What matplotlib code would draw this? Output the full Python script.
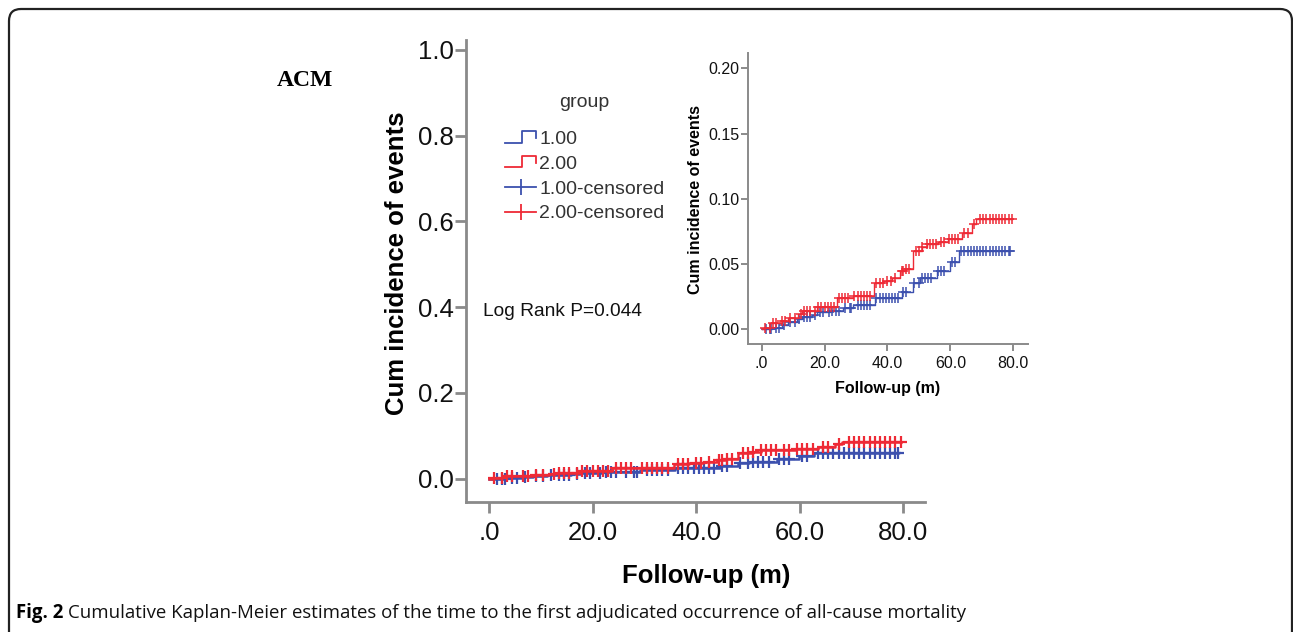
import numpy as np
import matplotlib
matplotlib.use("Agg")
import matplotlib.pyplot as plt
from matplotlib.legend_handler import HandlerBase
from matplotlib.lines import Line2D
from matplotlib.patches import FancyBboxPatch
from matplotlib.transforms import IdentityTransform

plt.rcParams['font.family'] = ['Liberation Sans', 'DejaVu Sans']

# ---------------- data ----------------
group_labels = ["1.00", "2.00"]

# group 1.00 (blue): event times (months) and cumulative incidence after each step
g1_times = [0.0, 3.2, 6.4, 8.5, 11.2, 12.7, 15.9, 17.5, 21.7, 25.9, 29.1, 36.0,
            44.7, 48.0, 50.3, 55.6, 59.9, 62.8]
g1_cum = [0.0, 0.0011, 0.0030, 0.0054, 0.0075, 0.0095, 0.0113, 0.0130, 0.0143,
          0.0164, 0.0189, 0.0242, 0.0288, 0.0357, 0.0390, 0.0449, 0.0518, 0.0600]
g1_censor = [1.5, 2.5, 3.0, 4.5, 5.5, 7.0, 9.0, 10.5, 12.0, 13.5, 14.5, 15.5, 17.0,
             18.5, 19.5, 21.5, 22.5, 23.5, 24.5, 26.5, 28.0, 28.5, 30.5, 31.5, 32.5,
             33.5, 34.5, 36.5, 37.5, 38.5, 39.5, 40.5, 41.5, 42.5, 43.5, 45.0, 46.0,
             48.5, 50.0, 51.0, 52.0, 53.0, 54.0, 56.0, 57.0, 58.0, 60.5, 61.5, 63.5,
             64.5, 65.5, 66.5, 67.5, 68.5, 69.5, 70.5, 71.5, 72.5, 73.5, 74.5, 75.5,
             76.5, 77.5, 78.5, 79.0]

# group 2.00 (red)
g2_times = [0.0, 0.5, 2.6, 6.4, 8.5, 11.6, 12.7, 17.5, 23.8, 29.1, 35.8, 38.7, 41.3,
            44.0, 45.5, 48.0, 50.9, 52.5, 56.2, 59.3, 63.6, 66.8, 68.1]
g2_cum = [0.0, 0.0012, 0.0050, 0.0066, 0.0089, 0.0117, 0.0140, 0.0169, 0.0238,
          0.0258, 0.0352, 0.0370, 0.0390, 0.0444, 0.0460, 0.0602, 0.0630, 0.0656,
          0.0670, 0.0690, 0.0736, 0.0809, 0.0846]
g2_censor = [1.0, 2.5, 3.5, 4.5, 6.5, 7.5, 9.0, 10.5, 12.5, 13.5, 14.5, 15.5, 17.0,
             18.0, 19.0, 20.0, 21.0, 22.0, 23.0, 24.5, 25.5, 26.5, 27.5, 29.5, 30.5,
             31.5, 32.5, 33.5, 34.5, 36.5, 37.5, 38.5, 40.0, 41.0, 42.5, 44.5, 45.0,
             46.0, 47.0, 49.0, 50.0, 51.0, 52.5, 53.5, 54.5, 55.5, 57.0, 58.0, 59.5,
             60.5, 61.5, 62.5, 64.5, 65.5, 67.5, 69.5, 70.5, 71.5, 72.5, 73.5, 74.5,
             75.5, 76.5, 77.5, 78.5, 79.5]

x_ticks = [0, 20, 40, 60, 80]
x_ticklabels = [".0", "20.0", "40.0", "60.0", "80.0"]
main_yticks = [0.0, 0.2, 0.4, 0.6, 0.8, 1.0]
main_yticklabels = ["0.0", "0.2", "0.4", "0.6", "0.8", "1.0"]
inset_yticks = [0.0, 0.05, 0.10, 0.15, 0.20]
inset_yticklabels = ["0.00", "0.05", "0.10", "0.15", "0.20"]

BLUE = "#3c50ae"
RED = "#ee2a36"
SPINE = "#8a8a8a"

# ---------------- figure ----------------
W, H = 1293, 632
fig = plt.figure(figsize=(W / 100, H / 100), dpi=100)


def fx(px):
    return px / W


def fy(py):
    return 1 - py / H


# outer rounded frame
frame = FancyBboxPatch((9, -60), 1283, 632 - 9 + 60,
                       boxstyle="round,pad=0,rounding_size=12",
                       transform=IdentityTransform(), fill=False,
                       edgecolor="#222222", linewidth=1.6)
fig.add_artist(frame)


def step_series(times, cum, censor):
    end = max(censor[-1], times[-1])
    xs = list(times) + [end]
    ys = list(cum) + [cum[-1]]
    t = np.asarray(times)
    c = np.asarray(cum)
    idx = np.searchsorted(t, np.asarray(censor), side="right") - 1
    return xs, ys, np.asarray(censor), c[idx]


series = [(g1_times, g1_cum, g1_censor, BLUE), (g2_times, g2_cum, g2_censor, RED)]


def style_axes(a, lw, ticklen, fs, xpad, ypad):
    for s in ["top", "right"]:
        a.spines[s].set_visible(False)
    for s in ["left", "bottom"]:
        a.spines[s].set_color(SPINE)
        a.spines[s].set_linewidth(lw)
    a.tick_params(axis="both", direction="out", length=ticklen, width=lw,
                  color=SPINE, labelsize=fs, labelcolor="#111111")
    a.tick_params(axis="x", pad=xpad)
    a.tick_params(axis="y", pad=ypad)


# ---------------- main axes ----------------
ax = fig.add_axes([fx(466), fy(502), fx(925) - fx(466), fy(40) - fy(502)])
ax.set_xlim(-4.44, 84.2)
ax.set_ylim(-0.0546, 1.0233)
for times, cum, cens, col in series:
    xs, ys, cx, cy = step_series(times, cum, cens)
    ax.step(xs, ys, where="post", color=col, lw=1.8)
    ax.plot(cx, cy, linestyle="none", marker="+", color=col, markersize=9, mew=1.6)
ax.set_xticks(x_ticks)
ax.set_xticklabels(x_ticklabels)
ax.set_yticks(main_yticks)
ax.set_yticklabels(main_yticklabels)
style_axes(ax, 2.0, 8, 18.5, 6, 1)
ax.set_xlabel("Follow-up (m)", fontsize=18.5, fontweight="bold")
ax.set_ylabel("Cum incidence of events", fontsize=18.5, fontweight="bold")
ax.xaxis.set_label_coords(fx(706), fy(576), transform=fig.transFigure)
ax.yaxis.set_label_coords(fx(397), fy(263), transform=fig.transFigure)
ax.xaxis.label.set_va("center")
ax.yaxis.label.set_va("center")

ax.text(fx(483), fy(311), "Log Rank P=0.044", transform=fig.transFigure,
        fontsize=13.8, va="center", ha="left", color="#111111")


class StepHandler(HandlerBase):
    def create_artists(self, legend, orig_handle, xdescent, ydescent, width,
                       height, fontsize, trans):
        x0, y0 = -xdescent, -ydescent
        xs = [x0, x0 + 0.55 * width, x0 + 0.55 * width, x0 + width, x0 + width]
        ys = [y0 + 0.1 * height, y0 + 0.1 * height, y0 + 0.95 * height,
              y0 + 0.95 * height, y0 + 0.45 * height]
        ln = Line2D(xs, ys, color=orig_handle.get_color(), lw=1.3, transform=trans)
        return [ln]


h1 = Line2D([], [], color=BLUE)
h2 = Line2D([], [], color=RED)
h3 = Line2D([], [], color=BLUE, lw=1.3, marker="|", markersize=11, mew=1.3)
h4 = Line2D([], [], color=RED, lw=1.3, marker="|", markersize=11, mew=1.3)
leg = ax.legend([h1, h2, h3, h4],
                [group_labels[0], group_labels[1],
                 group_labels[0] + "-censored", group_labels[1] + "-censored"],
                handler_map={h1: StepHandler(), h2: StepHandler()},
                title="group", loc="upper left",
                bbox_to_anchor=(fx(505), fy(94)), bbox_transform=fig.transFigure,
                frameon=False, fontsize=14, title_fontsize=14,
                handlelength=1.6, handletextpad=0.15, labelspacing=0.37,
                borderpad=0, borderaxespad=0, numpoints=1)
for t in leg.get_texts():
    t.set_color("#333333")
leg.get_title().set_color("#333333")
leg._legend_box.sep = 14

# ---------------- inset axes ----------------
ins = fig.add_axes([fx(748), fy(344), fx(1028) - fx(748), fy(53) - fy(344)])
ins.set_xlim(-4.35, 84.7)
ins.set_ylim(-0.0113, 0.2117)
for times, cum, cens, col in series:
    xs, ys, cx, cy = step_series(times, cum, cens)
    ins.step(xs, ys, where="post", color=col, lw=1.0)
    ins.plot(cx, cy, linestyle="none", marker="+", color=col, markersize=6.5, mew=1.1)
ins.set_xticks(x_ticks)
ins.set_xticklabels(x_ticklabels)
ins.set_yticks(inset_yticks)
ins.set_yticklabels(inset_yticklabels)
style_axes(ins, 1.4, 5, 11.5, 4, 1)
ins.set_xlabel("Follow-up (m)", fontsize=11.5, fontweight="bold")
ins.set_ylabel("Cum incidence of events", fontsize=11.5, fontweight="bold")
ins.xaxis.set_label_coords(fx(888), fy(388), transform=fig.transFigure)
ins.yaxis.set_label_coords(fx(695), fy(199), transform=fig.transFigure)
ins.xaxis.label.set_va("center")
ins.yaxis.label.set_va("center")

# ---------------- texts ----------------
fig.text(fx(305), fy(80), "ACM", fontsize=17, fontweight="bold",
         family=["Liberation Serif", "DejaVu Serif"], ha="center", va="center")

cap_y = fy(613)
t1 = fig.text(fx(16), cap_y, "Fig. 2", fontsize=13.4, fontweight="bold",
              family=["Open Sans", "DejaVu Sans"], ha="left", va="center")
fig.canvas.draw()
bb = t1.get_window_extent()
fig.text((bb.x1 + 5) / W, cap_y,
         "Cumulative Kaplan-Meier estimates of the time to the first adjudicated occurrence of all-cause mortality",
         fontsize=13.4, family=["Open Sans", "DejaVu Sans"], ha="left", va="center",
         color="#111111")

fig.savefig("out.png", dpi=100)
